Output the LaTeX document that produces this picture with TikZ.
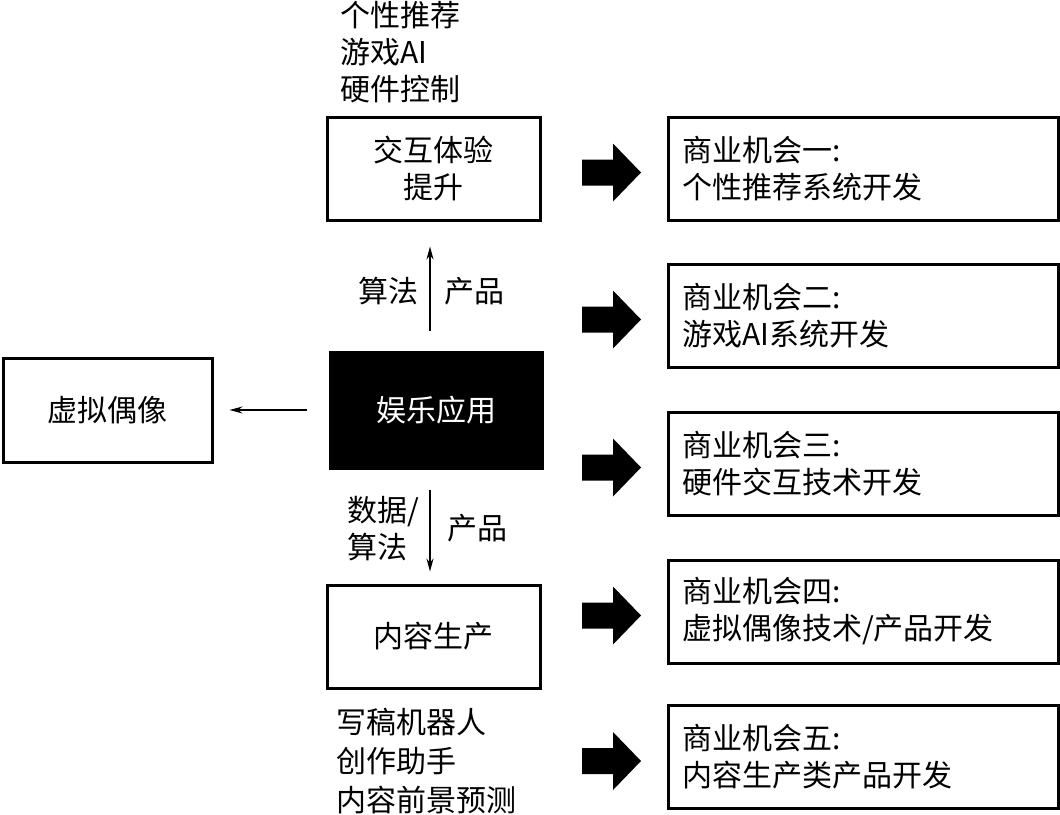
\documentclass[tikz,border=0pt]{standalone}
\usepackage{fontspec}
\setmainfont{Noto Sans CJK SC}
\usetikzlibrary{arrows.meta}

\tikzset{
  box/.style={draw, line width=3pt, minimum width=213pt, minimum height=103pt, align=center, inner sep=0pt},
  chance/.style={draw, line width=3pt, minimum width=390pt, minimum height=103pt, text width=362pt, align=left, inner sep=0pt},
  flow/.style={-{Stealth[length=13pt,width=7pt]}, line width=1.5pt},
  note/.style={inner sep=0pt, align=left},
  lbl/.style={inner sep=0pt, align=left},
  bigarrow/.pic={\fill (-29,-13) -- (2,-13) -- (2,-29) -- (30,0) -- (2,29) -- (2,13) -- (-29,13) -- cycle;}
}

\begin{document}
\begin{tikzpicture}[x=1pt, y=-1pt, font=\fontsize{30pt}{37pt}\selectfont]
  \useasboundingbox (0,0) rectangle (1060,814);

  % centre column
  \node[box] (exp) at (433.5,168.5) {交互体验\\提升};
  \node[box, fill=black, text=white, minimum width=212pt, minimum height=116pt] (ent) at (436,410) {娱乐应用};
  \node[box] (cont) at (433.5,636.5) {内容生产};
  \node[box, minimum width=209pt, minimum height=104pt] (idol) at (107.5,410) {虚拟偶像};

  % examples above and below
  \node[note, anchor=west] (apps) at (340,52) {个性推荐\\游戏AI\\硬件控制};
  \node[note, anchor=west, font=\fontsize{30pt}{39pt}\selectfont] (tools) at (336,761) {写稿机器人\\创作助手\\内容前景预测};

  % connectors
  \coordinate (ax) at (430,0);
  \draw[flow, shorten <=20pt, shorten >=25pt] (ent.north -| ax) -- (exp.south -| ax);
  \draw[flow, shorten <=20pt, shorten >=12pt] (ent.south -| ax) -- (cont.north -| ax);
  \draw[flow, shorten <=22pt, shorten >=16pt] (ent.west) -- (idol.east);

  \node[lbl] (alg) at (388,291) {算法};
  \node[lbl] (prod1) at (474,291) {产品};
  \node[lbl] (data) at (383,529) {数据/\\算法};
  \node[lbl] (prod2) at (477,528) {产品};

  % business opportunities
  \node[chance] (c1) at (863,168.5) {商业机会一:\\个性推荐系统开发};
  \node[chance] (c2) at (863,315.5) {商业机会二:\\游戏AI系统开发};
  \node[chance] (c3) at (863,463.5) {商业机会三:\\硬件交互技术开发};
  \node[chance] (c4) at (863,611.5) {商业机会四:\\虚拟偶像技术/产品开发};
  \node[chance] (c5) at (863,757) {商业机会五:\\内容生产类产品开发};

  \foreach \c in {c1,c2,c3,c4,c5}
    \pic at ([yshift=-4pt]\c.center -| 611,0) {bigarrow};
\end{tikzpicture}
\end{document}
